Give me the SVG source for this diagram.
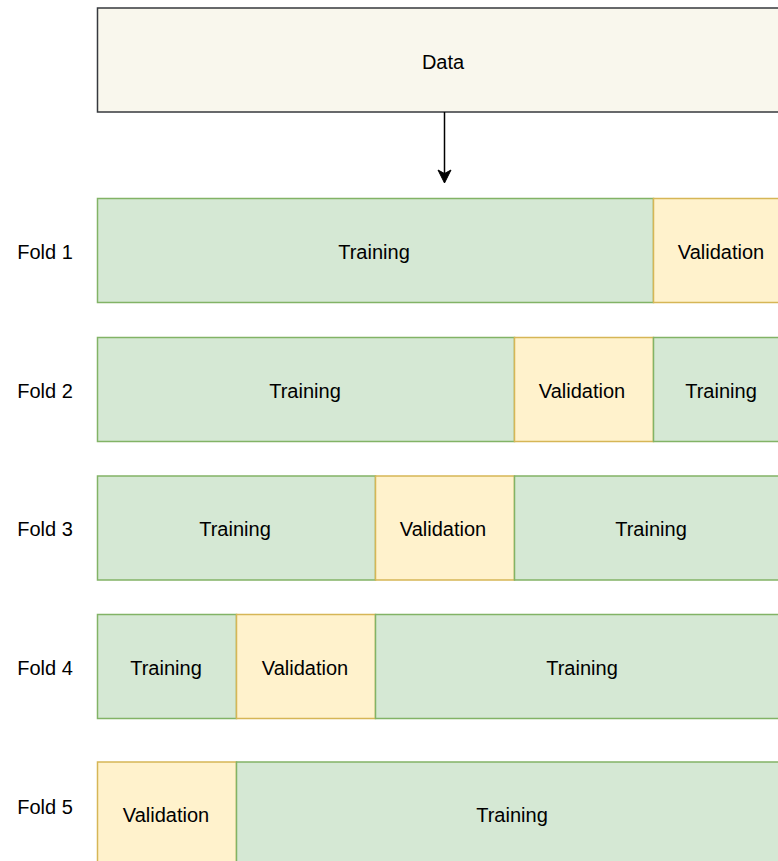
<svg xmlns="http://www.w3.org/2000/svg" width="778" height="861" viewBox="0 0 778 861">
<style>
.g{fill:#d5e8d4;stroke:#82b366;stroke-width:1.5}
.y{fill:#fff2cc;stroke:#d6b656;stroke-width:1.5}
.d{fill:#f9f7ed;stroke:#36393d;stroke-width:1.5}
text{font-family:"Liberation Sans",Arial,sans-serif;font-size:20px;fill:#000;text-anchor:middle;dominant-baseline:central}
</style>
<g id="data"><rect class="d" x="97.5" y="8" width="695" height="104"/><text x="443" y="62">Data</text></g>
<g id="connectors">
<line x1="444.5" y1="112" x2="444.5" y2="174" stroke="#000" stroke-width="1.5"/>
<path d="M438 170 L444.5 183 L451 170 L444.5 173.5 Z" fill="#000" stroke="#000" stroke-width="1"/>
</g>
<g id="fold1">
<text x="45" y="252">Fold 1</text>
<rect class="g" x="97.5" y="198.5" width="556" height="104"/><text x="374" y="252">Training</text>
<rect class="y" x="653.5" y="198.5" width="139" height="104"/><text x="721" y="252">Validation</text>
</g>
<g id="fold2">
<text x="45" y="391">Fold 2</text>
<rect class="g" x="97.5" y="337.5" width="417" height="104"/><text x="305" y="391">Training</text>
<rect class="y" x="514.5" y="337.5" width="139" height="104"/><text x="582" y="391">Validation</text>
<rect class="g" x="653.5" y="337.5" width="139" height="104"/><text x="721" y="391">Training</text>
</g>
<g id="fold3">
<text x="45" y="529">Fold 3</text>
<rect class="g" x="97.5" y="476" width="278" height="104"/><text x="235" y="529">Training</text>
<rect class="y" x="375.5" y="476" width="139" height="104"/><text x="443" y="529">Validation</text>
<rect class="g" x="514.5" y="476" width="278" height="104"/><text x="651" y="529">Training</text>
</g>
<g id="fold4">
<text x="45" y="668">Fold 4</text>
<rect class="g" x="97.5" y="614.5" width="139" height="104"/><text x="166" y="668">Training</text>
<rect class="y" x="236.5" y="614.5" width="139" height="104"/><text x="305" y="668">Validation</text>
<rect class="g" x="375.5" y="614.5" width="417" height="104"/><text x="582" y="668">Training</text>
</g>
<g id="fold5">
<text x="45" y="807">Fold 5</text>
<rect class="y" x="97.5" y="762" width="139" height="104"/><text x="166" y="815">Validation</text>
<rect class="g" x="236.5" y="762" width="556" height="104"/><text x="512" y="815">Training</text>
</g>
</svg>
